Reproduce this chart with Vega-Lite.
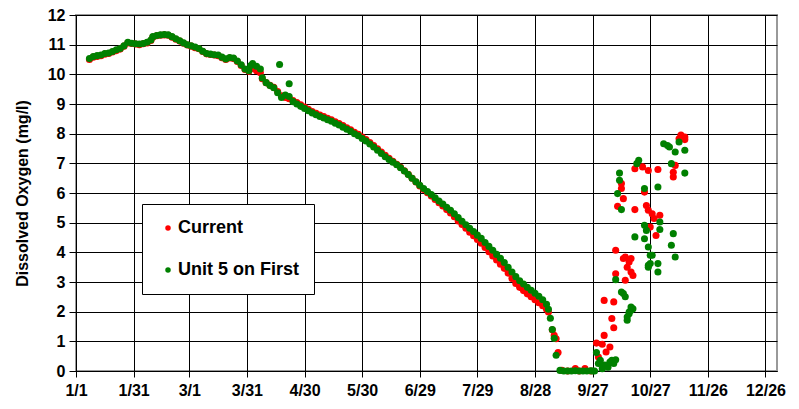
{
  "$schema": "https://vega.github.io/schema/vega-lite/v6.json",
  "width": 701,
  "height": 356,
  "autosize": {"type": "none"},
  "padding": {"left": 76, "top": 15, "right": 22, "bottom": 38},
  "background": "white",
  "data": {"values": [
    {"series":"Current","date":"2001-01-08","value":10.5},{"series":"Current","date":"2001-01-10","value":10.58},{"series":"Current","date":"2001-01-12","value":10.6},{"series":"Current","date":"2001-01-14","value":10.63},{"series":"Current","date":"2001-01-16","value":10.68},{"series":"Current","date":"2001-01-18","value":10.7},{"series":"Current","date":"2001-01-20","value":10.75},{"series":"Current","date":"2001-01-22","value":10.8},{"series":"Current","date":"2001-01-24","value":10.85},{"series":"Current","date":"2001-01-26","value":10.95},{"series":"Current","date":"2001-01-28","value":11.06},{"series":"Current","date":"2001-01-30","value":11.04},
    {"series":"Current","date":"2001-02-01","value":11.02},{"series":"Current","date":"2001-02-03","value":11.0},{"series":"Current","date":"2001-02-05","value":11.03},{"series":"Current","date":"2001-02-07","value":11.06},{"series":"Current","date":"2001-02-09","value":11.14},{"series":"Current","date":"2001-02-10","value":11.25},{"series":"Current","date":"2001-02-12","value":11.3},{"series":"Current","date":"2001-02-14","value":11.32},{"series":"Current","date":"2001-02-16","value":11.33},{"series":"Current","date":"2001-02-18","value":11.32},{"series":"Current","date":"2001-02-20","value":11.25},{"series":"Current","date":"2001-02-22","value":11.18},{"series":"Current","date":"2001-02-24","value":11.12},{"series":"Current","date":"2001-02-26","value":11.05},{"series":"Current","date":"2001-02-28","value":10.99},
    {"series":"Current","date":"2001-03-02","value":10.95},{"series":"Current","date":"2001-03-04","value":10.9},{"series":"Current","date":"2001-03-06","value":10.86},{"series":"Current","date":"2001-03-08","value":10.77},{"series":"Current","date":"2001-03-10","value":10.69},{"series":"Current","date":"2001-03-12","value":10.67},{"series":"Current","date":"2001-03-14","value":10.65},{"series":"Current","date":"2001-03-16","value":10.63},{"series":"Current","date":"2001-03-18","value":10.56},{"series":"Current","date":"2001-03-20","value":10.5},{"series":"Current","date":"2001-03-22","value":10.55},{"series":"Current","date":"2001-03-24","value":10.53},{"series":"Current","date":"2001-03-26","value":10.43},{"series":"Current","date":"2001-03-28","value":10.3},{"series":"Current","date":"2001-03-30","value":10.16},
    {"series":"Current","date":"2001-04-01","value":10.1},{"series":"Current","date":"2001-04-03","value":10.2},{"series":"Current","date":"2001-04-05","value":10.12},{"series":"Current","date":"2001-04-07","value":10.05},{"series":"Current","date":"2001-04-08","value":9.85},{"series":"Current","date":"2001-04-10","value":9.72},{"series":"Current","date":"2001-04-12","value":9.63},{"series":"Current","date":"2001-04-14","value":9.56},{"series":"Current","date":"2001-04-16","value":9.42},{"series":"Current","date":"2001-04-18","value":9.28},{"series":"Current","date":"2001-04-20","value":9.22},{"series":"Current","date":"2001-04-22","value":9.18},{"series":"Current","date":"2001-04-24","value":9.12},{"series":"Current","date":"2001-04-26","value":9.05},{"series":"Current","date":"2001-04-28","value":8.97},{"series":"Current","date":"2001-04-30","value":8.9},
    {"series":"Current","date":"2001-05-02","value":8.82},{"series":"Current","date":"2001-05-04","value":8.75},{"series":"Current","date":"2001-05-06","value":8.69},{"series":"Current","date":"2001-05-08","value":8.63},{"series":"Current","date":"2001-05-10","value":8.58},{"series":"Current","date":"2001-05-12","value":8.52},{"series":"Current","date":"2001-05-14","value":8.47},{"series":"Current","date":"2001-05-16","value":8.4},{"series":"Current","date":"2001-05-18","value":8.34},{"series":"Current","date":"2001-05-20","value":8.27},{"series":"Current","date":"2001-05-22","value":8.2},{"series":"Current","date":"2001-05-24","value":8.13},{"series":"Current","date":"2001-05-26","value":8.05},{"series":"Current","date":"2001-05-28","value":7.98},{"series":"Current","date":"2001-05-30","value":7.89},
    {"series":"Current","date":"2001-06-01","value":7.8},{"series":"Current","date":"2001-06-03","value":7.7},{"series":"Current","date":"2001-06-05","value":7.6},{"series":"Current","date":"2001-06-07","value":7.49},{"series":"Current","date":"2001-06-09","value":7.38},{"series":"Current","date":"2001-06-11","value":7.27},{"series":"Current","date":"2001-06-13","value":7.17},{"series":"Current","date":"2001-06-15","value":7.07},{"series":"Current","date":"2001-06-17","value":6.97},{"series":"Current","date":"2001-06-19","value":6.87},{"series":"Current","date":"2001-06-21","value":6.75},{"series":"Current","date":"2001-06-23","value":6.63},{"series":"Current","date":"2001-06-25","value":6.5},{"series":"Current","date":"2001-06-27","value":6.37},{"series":"Current","date":"2001-06-29","value":6.24},
    {"series":"Current","date":"2001-07-01","value":6.12},{"series":"Current","date":"2001-07-03","value":6.01},{"series":"Current","date":"2001-07-05","value":5.9},{"series":"Current","date":"2001-07-07","value":5.78},{"series":"Current","date":"2001-07-09","value":5.67},{"series":"Current","date":"2001-07-11","value":5.56},{"series":"Current","date":"2001-07-13","value":5.44},{"series":"Current","date":"2001-07-15","value":5.33},{"series":"Current","date":"2001-07-17","value":5.2},{"series":"Current","date":"2001-07-19","value":5.06},{"series":"Current","date":"2001-07-21","value":4.94},{"series":"Current","date":"2001-07-23","value":4.81},{"series":"Current","date":"2001-07-25","value":4.68},{"series":"Current","date":"2001-07-27","value":4.56},{"series":"Current","date":"2001-07-29","value":4.43},{"series":"Current","date":"2001-07-31","value":4.31},
    {"series":"Current","date":"2001-08-02","value":4.16},{"series":"Current","date":"2001-08-04","value":4.02},{"series":"Current","date":"2001-08-06","value":3.88},{"series":"Current","date":"2001-08-08","value":3.74},{"series":"Current","date":"2001-08-10","value":3.6},{"series":"Current","date":"2001-08-12","value":3.46},{"series":"Current","date":"2001-08-14","value":3.3},{"series":"Current","date":"2001-08-16","value":3.12},{"series":"Current","date":"2001-08-18","value":2.95},{"series":"Current","date":"2001-08-20","value":2.82},{"series":"Current","date":"2001-08-22","value":2.71},{"series":"Current","date":"2001-08-24","value":2.6},{"series":"Current","date":"2001-08-26","value":2.5},{"series":"Current","date":"2001-08-28","value":2.4},{"series":"Current","date":"2001-08-30","value":2.3},
    {"series":"Current","date":"2001-09-01","value":2.2},{"series":"Current","date":"2001-09-03","value":2.08},{"series":"Current","date":"2001-09-04","value":1.99},{"series":"Current","date":"2001-09-06","value":1.39},{"series":"Current","date":"2001-09-07","value":1.2},{"series":"Current","date":"2001-09-08","value":1.09},{"series":"Current","date":"2001-09-09","value":0.62},{"series":"Current","date":"2001-09-11","value":0.02},{"series":"Current","date":"2001-09-14","value":0.0},{"series":"Current","date":"2001-09-18","value":0.08},{"series":"Current","date":"2001-09-20","value":0.0},{"series":"Current","date":"2001-09-23","value":0.08},{"series":"Current","date":"2001-09-26","value":0.0},
    {"series":"Current","date":"2001-09-29","value":0.94},{"series":"Current","date":"2001-09-30","value":0.47},{"series":"Current","date":"2001-10-02","value":0.9},{"series":"Current","date":"2001-10-03","value":1.2},{"series":"Current","date":"2001-10-03","value":2.38},{"series":"Current","date":"2001-10-04","value":0.64},{"series":"Current","date":"2001-10-06","value":0.81},{"series":"Current","date":"2001-10-07","value":0.3},{"series":"Current","date":"2001-10-07","value":1.77},{"series":"Current","date":"2001-10-08","value":1.46},{"series":"Current","date":"2001-10-08","value":2.33},{"series":"Current","date":"2001-10-09","value":4.07},{"series":"Current","date":"2001-10-09","value":3.28},{"series":"Current","date":"2001-10-10","value":5.55},{"series":"Current","date":"2001-10-12","value":6.15},{"series":"Current","date":"2001-10-12","value":6.32},{"series":"Current","date":"2001-10-13","value":5.81},{"series":"Current","date":"2001-10-13","value":3.79},{"series":"Current","date":"2001-10-14","value":3.06},{"series":"Current","date":"2001-10-14","value":3.84},{"series":"Current","date":"2001-10-15","value":3.5},{"series":"Current","date":"2001-10-16","value":3.67},{"series":"Current","date":"2001-10-17","value":3.79},{"series":"Current","date":"2001-10-17","value":3.34},{"series":"Current","date":"2001-10-18","value":3.22},{"series":"Current","date":"2001-10-19","value":6.82},{"series":"Current","date":"2001-10-19","value":5.44},{"series":"Current","date":"2001-10-23","value":6.88},{"series":"Current","date":"2001-10-24","value":6.03},{"series":"Current","date":"2001-10-25","value":5.58},{"series":"Current","date":"2001-10-26","value":6.76},{"series":"Current","date":"2001-10-26","value":5.42},{"series":"Current","date":"2001-10-27","value":4.85},{"series":"Current","date":"2001-10-28","value":5.3},{"series":"Current","date":"2001-10-29","value":5.14},{"series":"Current","date":"2001-10-30","value":4.57},{"series":"Current","date":"2001-10-31","value":6.79},{"series":"Current","date":"2001-11-01","value":5.25},{"series":"Current","date":"2001-11-08","value":6.54},{"series":"Current","date":"2001-11-08","value":6.7},{"series":"Current","date":"2001-11-09","value":6.93},{"series":"Current","date":"2001-11-11","value":7.83},{"series":"Current","date":"2001-11-12","value":7.95},{"series":"Current","date":"2001-11-14","value":7.89},{"series":"Current","date":"2001-11-14","value":7.8},
    {"series":"Unit 5 on First","date":"2001-01-08","value":10.53},{"series":"Unit 5 on First","date":"2001-01-10","value":10.6},{"series":"Unit 5 on First","date":"2001-01-12","value":10.63},{"series":"Unit 5 on First","date":"2001-01-14","value":10.65},{"series":"Unit 5 on First","date":"2001-01-16","value":10.7},{"series":"Unit 5 on First","date":"2001-01-18","value":10.72},{"series":"Unit 5 on First","date":"2001-01-20","value":10.77},{"series":"Unit 5 on First","date":"2001-01-22","value":10.83},{"series":"Unit 5 on First","date":"2001-01-24","value":10.87},{"series":"Unit 5 on First","date":"2001-01-26","value":10.96},{"series":"Unit 5 on First","date":"2001-01-28","value":11.08},{"series":"Unit 5 on First","date":"2001-01-30","value":11.05},
    {"series":"Unit 5 on First","date":"2001-02-01","value":11.03},{"series":"Unit 5 on First","date":"2001-02-03","value":11.02},{"series":"Unit 5 on First","date":"2001-02-05","value":11.04},{"series":"Unit 5 on First","date":"2001-02-07","value":11.08},{"series":"Unit 5 on First","date":"2001-02-09","value":11.16},{"series":"Unit 5 on First","date":"2001-02-10","value":11.27},{"series":"Unit 5 on First","date":"2001-02-12","value":11.31},{"series":"Unit 5 on First","date":"2001-02-14","value":11.33},{"series":"Unit 5 on First","date":"2001-02-16","value":11.34},{"series":"Unit 5 on First","date":"2001-02-18","value":11.33},{"series":"Unit 5 on First","date":"2001-02-20","value":11.27},{"series":"Unit 5 on First","date":"2001-02-22","value":11.2},{"series":"Unit 5 on First","date":"2001-02-24","value":11.13},{"series":"Unit 5 on First","date":"2001-02-26","value":11.06},{"series":"Unit 5 on First","date":"2001-02-28","value":11.0},
    {"series":"Unit 5 on First","date":"2001-03-02","value":10.96},{"series":"Unit 5 on First","date":"2001-03-04","value":10.92},{"series":"Unit 5 on First","date":"2001-03-06","value":10.87},{"series":"Unit 5 on First","date":"2001-03-08","value":10.78},{"series":"Unit 5 on First","date":"2001-03-10","value":10.7},{"series":"Unit 5 on First","date":"2001-03-12","value":10.68},{"series":"Unit 5 on First","date":"2001-03-14","value":10.66},{"series":"Unit 5 on First","date":"2001-03-16","value":10.65},{"series":"Unit 5 on First","date":"2001-03-18","value":10.58},{"series":"Unit 5 on First","date":"2001-03-20","value":10.52},{"series":"Unit 5 on First","date":"2001-03-22","value":10.57},{"series":"Unit 5 on First","date":"2001-03-24","value":10.55},{"series":"Unit 5 on First","date":"2001-03-26","value":10.45},{"series":"Unit 5 on First","date":"2001-03-28","value":10.32},{"series":"Unit 5 on First","date":"2001-03-30","value":10.18},
    {"series":"Unit 5 on First","date":"2001-04-01","value":10.12},{"series":"Unit 5 on First","date":"2001-04-02","value":10.3},{"series":"Unit 5 on First","date":"2001-04-03","value":10.36},{"series":"Unit 5 on First","date":"2001-04-05","value":10.27},{"series":"Unit 5 on First","date":"2001-04-07","value":10.18},{"series":"Unit 5 on First","date":"2001-04-08","value":9.88},{"series":"Unit 5 on First","date":"2001-04-10","value":9.72},{"series":"Unit 5 on First","date":"2001-04-12","value":9.62},{"series":"Unit 5 on First","date":"2001-04-14","value":9.55},{"series":"Unit 5 on First","date":"2001-04-16","value":9.38},{"series":"Unit 5 on First","date":"2001-04-17","value":10.33},{"series":"Unit 5 on First","date":"2001-04-18","value":9.22},{"series":"Unit 5 on First","date":"2001-04-20","value":9.3},{"series":"Unit 5 on First","date":"2001-04-22","value":9.68},{"series":"Unit 5 on First","date":"2001-04-22","value":9.25},{"series":"Unit 5 on First","date":"2001-04-24","value":9.08},{"series":"Unit 5 on First","date":"2001-04-26","value":9.0},{"series":"Unit 5 on First","date":"2001-04-28","value":8.92},{"series":"Unit 5 on First","date":"2001-04-30","value":8.85},
    {"series":"Unit 5 on First","date":"2001-05-02","value":8.77},{"series":"Unit 5 on First","date":"2001-05-04","value":8.7},{"series":"Unit 5 on First","date":"2001-05-06","value":8.64},{"series":"Unit 5 on First","date":"2001-05-08","value":8.58},{"series":"Unit 5 on First","date":"2001-05-10","value":8.53},{"series":"Unit 5 on First","date":"2001-05-12","value":8.47},{"series":"Unit 5 on First","date":"2001-05-14","value":8.42},{"series":"Unit 5 on First","date":"2001-05-16","value":8.35},{"series":"Unit 5 on First","date":"2001-05-18","value":8.29},{"series":"Unit 5 on First","date":"2001-05-20","value":8.22},{"series":"Unit 5 on First","date":"2001-05-22","value":8.15},{"series":"Unit 5 on First","date":"2001-05-24","value":8.08},{"series":"Unit 5 on First","date":"2001-05-26","value":8.0},{"series":"Unit 5 on First","date":"2001-05-28","value":7.93},{"series":"Unit 5 on First","date":"2001-05-30","value":7.84},
    {"series":"Unit 5 on First","date":"2001-06-01","value":7.75},{"series":"Unit 5 on First","date":"2001-06-03","value":7.65},{"series":"Unit 5 on First","date":"2001-06-05","value":7.55},{"series":"Unit 5 on First","date":"2001-06-07","value":7.44},{"series":"Unit 5 on First","date":"2001-06-09","value":7.33},{"series":"Unit 5 on First","date":"2001-06-11","value":7.22},{"series":"Unit 5 on First","date":"2001-06-13","value":7.13},{"series":"Unit 5 on First","date":"2001-06-15","value":7.04},{"series":"Unit 5 on First","date":"2001-06-17","value":6.95},{"series":"Unit 5 on First","date":"2001-06-19","value":6.85},{"series":"Unit 5 on First","date":"2001-06-21","value":6.74},{"series":"Unit 5 on First","date":"2001-06-23","value":6.62},{"series":"Unit 5 on First","date":"2001-06-25","value":6.5},{"series":"Unit 5 on First","date":"2001-06-27","value":6.38},{"series":"Unit 5 on First","date":"2001-06-29","value":6.26},
    {"series":"Unit 5 on First","date":"2001-07-01","value":6.15},{"series":"Unit 5 on First","date":"2001-07-03","value":6.05},{"series":"Unit 5 on First","date":"2001-07-05","value":5.95},{"series":"Unit 5 on First","date":"2001-07-07","value":5.84},{"series":"Unit 5 on First","date":"2001-07-09","value":5.73},{"series":"Unit 5 on First","date":"2001-07-11","value":5.63},{"series":"Unit 5 on First","date":"2001-07-13","value":5.52},{"series":"Unit 5 on First","date":"2001-07-15","value":5.42},{"series":"Unit 5 on First","date":"2001-07-17","value":5.3},{"series":"Unit 5 on First","date":"2001-07-19","value":5.17},{"series":"Unit 5 on First","date":"2001-07-21","value":5.05},{"series":"Unit 5 on First","date":"2001-07-23","value":4.93},{"series":"Unit 5 on First","date":"2001-07-25","value":4.81},{"series":"Unit 5 on First","date":"2001-07-27","value":4.7},{"series":"Unit 5 on First","date":"2001-07-29","value":4.58},{"series":"Unit 5 on First","date":"2001-07-31","value":4.47},
    {"series":"Unit 5 on First","date":"2001-08-02","value":4.33},{"series":"Unit 5 on First","date":"2001-08-04","value":4.2},{"series":"Unit 5 on First","date":"2001-08-06","value":4.07},{"series":"Unit 5 on First","date":"2001-08-08","value":3.93},{"series":"Unit 5 on First","date":"2001-08-10","value":3.8},{"series":"Unit 5 on First","date":"2001-08-12","value":3.66},{"series":"Unit 5 on First","date":"2001-08-14","value":3.5},{"series":"Unit 5 on First","date":"2001-08-16","value":3.34},{"series":"Unit 5 on First","date":"2001-08-18","value":3.18},{"series":"Unit 5 on First","date":"2001-08-20","value":3.04},{"series":"Unit 5 on First","date":"2001-08-22","value":2.93},{"series":"Unit 5 on First","date":"2001-08-24","value":2.82},{"series":"Unit 5 on First","date":"2001-08-26","value":2.72},{"series":"Unit 5 on First","date":"2001-08-28","value":2.62},{"series":"Unit 5 on First","date":"2001-08-30","value":2.52},
    {"series":"Unit 5 on First","date":"2001-09-01","value":2.4},{"series":"Unit 5 on First","date":"2001-09-03","value":2.25},{"series":"Unit 5 on First","date":"2001-09-04","value":2.08},{"series":"Unit 5 on First","date":"2001-09-05","value":1.78},{"series":"Unit 5 on First","date":"2001-09-06","value":1.4},{"series":"Unit 5 on First","date":"2001-09-07","value":1.1},{"series":"Unit 5 on First","date":"2001-09-08","value":0.53},{"series":"Unit 5 on First","date":"2001-09-10","value":0.02},{"series":"Unit 5 on First","date":"2001-09-12","value":0.0},{"series":"Unit 5 on First","date":"2001-09-14","value":0.0},{"series":"Unit 5 on First","date":"2001-09-16","value":0.0},{"series":"Unit 5 on First","date":"2001-09-18","value":0.01},{"series":"Unit 5 on First","date":"2001-09-20","value":0.0},{"series":"Unit 5 on First","date":"2001-09-22","value":0.0},{"series":"Unit 5 on First","date":"2001-09-24","value":0.0},{"series":"Unit 5 on First","date":"2001-09-26","value":0.01},{"series":"Unit 5 on First","date":"2001-09-27","value":0.0},
    {"series":"Unit 5 on First","date":"2001-09-28","value":0.0},{"series":"Unit 5 on First","date":"2001-09-29","value":0.62},{"series":"Unit 5 on First","date":"2001-09-30","value":0.25},{"series":"Unit 5 on First","date":"2001-10-01","value":0.36},{"series":"Unit 5 on First","date":"2001-10-02","value":0.08},{"series":"Unit 5 on First","date":"2001-10-03","value":0.2},{"series":"Unit 5 on First","date":"2001-10-04","value":0.19},{"series":"Unit 5 on First","date":"2001-10-05","value":0.13},{"series":"Unit 5 on First","date":"2001-10-06","value":0.3},{"series":"Unit 5 on First","date":"2001-10-07","value":0.36},{"series":"Unit 5 on First","date":"2001-10-08","value":0.25},{"series":"Unit 5 on First","date":"2001-10-09","value":0.38},{"series":"Unit 5 on First","date":"2001-10-09","value":3.08},{"series":"Unit 5 on First","date":"2001-10-10","value":5.98},{"series":"Unit 5 on First","date":"2001-10-11","value":6.43},{"series":"Unit 5 on First","date":"2001-10-11","value":6.67},{"series":"Unit 5 on First","date":"2001-10-12","value":5.44},{"series":"Unit 5 on First","date":"2001-10-12","value":2.66},{"series":"Unit 5 on First","date":"2001-10-13","value":2.61},{"series":"Unit 5 on First","date":"2001-10-14","value":2.5},{"series":"Unit 5 on First","date":"2001-10-15","value":1.82},{"series":"Unit 5 on First","date":"2001-10-15","value":1.71},{"series":"Unit 5 on First","date":"2001-10-16","value":1.93},{"series":"Unit 5 on First","date":"2001-10-16","value":1.99},{"series":"Unit 5 on First","date":"2001-10-17","value":2.05},{"series":"Unit 5 on First","date":"2001-10-17","value":2.16},{"series":"Unit 5 on First","date":"2001-10-18","value":2.1},{"series":"Unit 5 on First","date":"2001-10-19","value":4.52},{"series":"Unit 5 on First","date":"2001-10-20","value":6.99},{"series":"Unit 5 on First","date":"2001-10-21","value":7.1},{"series":"Unit 5 on First","date":"2001-10-24","value":4.46},{"series":"Unit 5 on First","date":"2001-10-24","value":4.91},{"series":"Unit 5 on First","date":"2001-10-24","value":6.15},{"series":"Unit 5 on First","date":"2001-10-25","value":4.74},{"series":"Unit 5 on First","date":"2001-10-26","value":4.18},{"series":"Unit 5 on First","date":"2001-10-26","value":3.5},{"series":"Unit 5 on First","date":"2001-10-26","value":3.56},{"series":"Unit 5 on First","date":"2001-10-27","value":3.9},{"series":"Unit 5 on First","date":"2001-10-27","value":3.62},{"series":"Unit 5 on First","date":"2001-10-28","value":3.9},{"series":"Unit 5 on First","date":"2001-10-31","value":3.34},{"series":"Unit 5 on First","date":"2001-10-31","value":3.62},{"series":"Unit 5 on First","date":"2001-10-31","value":6.2},{"series":"Unit 5 on First","date":"2001-11-01","value":5.02},{"series":"Unit 5 on First","date":"2001-11-01","value":4.77},{"series":"Unit 5 on First","date":"2001-11-03","value":7.66},{"series":"Unit 5 on First","date":"2001-11-05","value":7.6},{"series":"Unit 5 on First","date":"2001-11-06","value":7.55},{"series":"Unit 5 on First","date":"2001-11-07","value":6.99},{"series":"Unit 5 on First","date":"2001-11-07","value":4.24},{"series":"Unit 5 on First","date":"2001-11-08","value":4.63},{"series":"Unit 5 on First","date":"2001-11-09","value":3.84},{"series":"Unit 5 on First","date":"2001-11-09","value":7.38},{"series":"Unit 5 on First","date":"2001-11-11","value":7.72},{"series":"Unit 5 on First","date":"2001-11-14","value":7.44},{"series":"Unit 5 on First","date":"2001-11-14","value":6.67}
  ]},
  "mark": {"type": "point", "filled": true, "opacity": 1, "size": 50, "strokeWidth": 0},
  "encoding": {
    "x": {
      "field": "date", "type": "temporal",
      "scale": {"type": "utc", "domain": [978307200000, 1009843200000]},
      "axis": {
        "title": null, "format": "%-m/%-d",
        "values": [978307200000, 980899200000, 983404800000, 985996800000, 988588800000, 991180800000, 993772800000, 996364800000, 998956800000, 1001548800000, 1004140800000, 1006732800000, 1009324800000],
        "tickSize": 6, "labelPadding": 5, "labelFlush": false, "labelOverlap": false
      }
    },
    "y": {
      "field": "value", "type": "quantitative",
      "scale": {"domain": [0, 12], "nice": false},
      "axis": {
        "title": "Dissolved Oxygen (mg/l)",
        "values": [0,1,2,3,4,5,6,7,8,9,10,11,12],
        "tickSize": 7, "labelPadding": 4,
        "titleX": -54, "titleY": 178, "titleAlign": "center", "titleBaseline": "middle", "titleAngle": -90,
        "titleFontSize": 16, "titleFont": "Liberation Sans", "titleFontWeight": "bold", "titleColor": "#000"
      }
    },
    "color": {
      "field": "series", "type": "nominal",
      "scale": {"domain": ["Current", "Unit 5 on First"], "range": ["#ff0000", "#008000"]},
      "legend": {
        "title": null, "orient": "none", "legendX": 66, "legendY": 189,
        "fillColor": "white", "strokeColor": "#000",
        "padding": 15, "rowPadding": 24, "symbolOffset": 2, "labelOffset": 1,
        "symbolType": "circle", "symbolSize": 30, "symbolStrokeWidth": 0,
        "labelFont": "Liberation Sans", "labelFontWeight": "bold", "labelFontSize": 18, "labelColor": "#000"
      }
    }
  },
  "config": {
    "view": {"stroke": "#999999", "strokeWidth": 2},
    "axis": {
      "grid": true, "gridColor": "#000", "gridWidth": 1, "gridOpacity": 1,
      "domainColor": "#000", "domainWidth": 1, "tickColor": "#000", "tickWidth": 1,
      "labelFont": "Liberation Sans", "labelFontWeight": "bold", "labelFontSize": 16, "labelColor": "#000"
    }
  }
}
